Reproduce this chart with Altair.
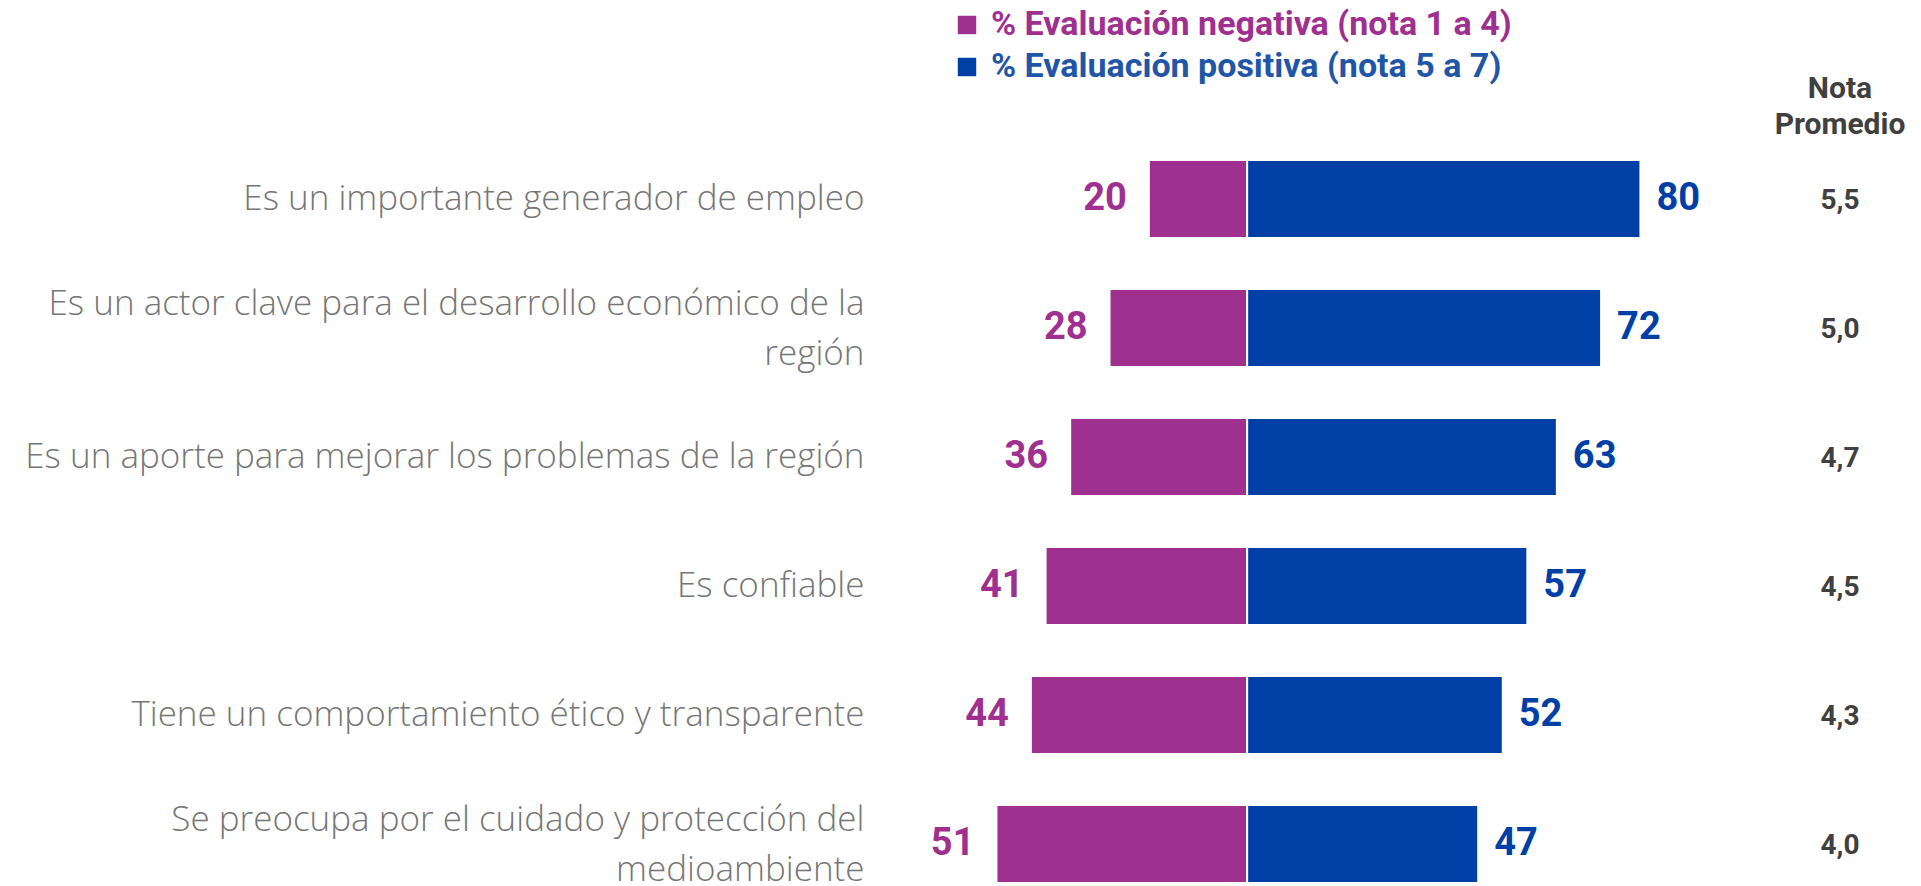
import altair as alt
import pandas as pd

categories = [
    "Es un importante generador de empleo",
    "Es un actor clave para el desarrollo económico de la|región",
    "Es un aporte para mejorar los problemas de la región",
    "Es confiable",
    "Tiene un comportamiento ético y transparente",
    "Se preocupa por el cuidado y protección del|medioambiente",
]
negative = [20, 28, 36, 41, 44, 51]
positive = [80, 72, 63, 57, 52, 47]
nota_promedio = ["5,5", "5,0", "4,7", "4,5", "4,3", "4,0"]
series = ["% Evaluación negativa (nota 1 a 4)", "% Evaluación positiva (nota 5 a 7)"]
bar_colors = ["#A0308F", "#003FA6"]
header = ["Nota|Promedio"]

rows = []
for c, n, p in zip(categories, negative, positive):
    rows.append({"cat": c, "serie": series[0], "value": n, "start": -n, "end": 0})
    rows.append({"cat": c, "serie": series[1], "value": p, "start": 0, "end": p})
df = pd.DataFrame(rows)
df_nota = pd.DataFrame({"cat": categories, "nota": nota_promedio})
df_head = pd.DataFrame({"h": header})

color_scale = alt.Scale(domain=series, range=bar_colors)
y_enc = alt.Y(
    "cat:N",
    sort=categories,
    scale=alt.Scale(paddingInner=0.3953, paddingOuter=0),
    axis=alt.Axis(
        title=None, domain=False, ticks=False, grid=False,
        labelFont="Open Sans", labelFontWeight=300, labelFontSize=35,
        labelColor="#767676", labelPadding=12, labelLimit=1000,
        labelExpr="split(datum.label, '|')", labelLineHeight=50,
        labelOffset={"condition": {"test": "indexof(datum.value, '|') >= 0", "value": -24}, "value": 0},
        minExtent=868, maxExtent=868,
    ),
)
x_scale = alt.Scale(domain=[-75.5, 85], nice=False, zero=False)

base = alt.Chart(df)

bars = base.mark_bar(stroke="white", strokeWidth=2).encode(
    y=y_enc,
    x=alt.X("start:Q", scale=x_scale, axis=None),
    x2="end:Q",
    color=alt.Color(
        "serie:N", scale=color_scale,
        legend=alt.Legend(
            title=None, orient="none", legendX=74, legendY=-152,
            direction="vertical", symbolType="square", symbolSize=340,
            symbolStrokeWidth=0, symbolOpacity=1,
            labelFont="Roboto", labelFontSize=34, labelFontWeight="bold",
            labelOffset=7, rowPadding=8, labelLimit=1000, padding=0,
            labelColor={"expr": "test(/negativa/, datum.label) ? '#A0308F' : '#1F56A8'"},
        ),
    ),
)

neg_text = base.transform_filter(alt.datum.start < 0).mark_text(
    align="right", baseline="middle", dx=-22, font="Roboto", fontSize=38, fontWeight="bold"
).encode(
    y=alt.Y("cat:N", sort=categories),
    x=alt.X("start:Q", scale=x_scale),
    text="value:Q",
    color=alt.Color("serie:N", scale=color_scale, legend=None),
)

pos_text = base.transform_filter(alt.datum.end > 0).mark_text(
    align="left", baseline="middle", dx=16, font="Roboto", fontSize=38, fontWeight="bold"
).encode(
    y=alt.Y("cat:N", sort=categories),
    x=alt.X("end:Q", scale=x_scale),
    text="value:Q",
    color=alt.Color("serie:N", scale=color_scale, legend=None),
)

nota = alt.Chart(df_nota).mark_text(
    align="center", baseline="middle", dy=2, font="Roboto", fontSize=28,
    fontWeight="bold", color="#404040"
).encode(
    y=alt.Y("cat:N", sort=categories),
    x=alt.value(964),
    text="nota:N",
)

head = alt.Chart(df_head).mark_text(
    align="center", baseline="alphabetic", font="Roboto", fontSize=30,
    fontWeight="bold", color="#404040", lineBreak="|", lineHeight=36
).encode(
    x=alt.value(964),
    y=alt.value(-62),
    text="h:N",
)

chart = alt.layer(bars, neg_text, pos_text, nota, head).properties(
    width=789, height=723, padding=0
).configure_view(stroke=None)

chart.save("out.html", embed_options={"renderer": "svg", "actions": False})
